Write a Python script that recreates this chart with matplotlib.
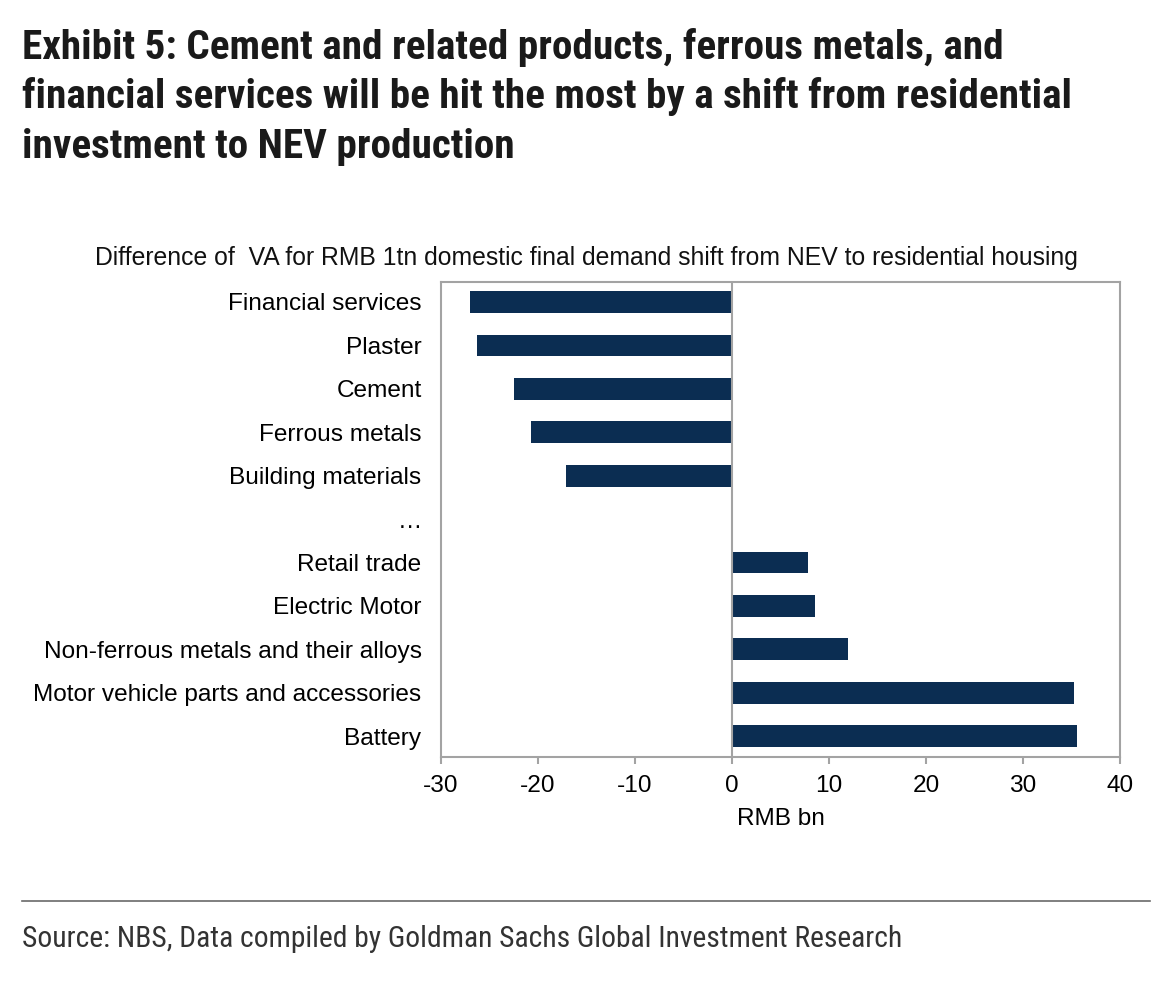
import matplotlib
matplotlib.use("Agg")
import matplotlib.pyplot as plt
import numpy as np

# data (RMB bn)
categories = ["Financial services", "Plaster", "Cement", "Ferrous metals",
              "Building materials", "\u2026", "Retail trade", "Electric Motor",
              "Non-ferrous metals and their alloys",
              "Motor vehicle parts and accessories", "Battery"]
values = [-27.0, -26.3, -22.5, -20.7, -17.1, np.nan, 7.8, 8.6, 12.0, 35.3, 35.6]
xticks = [-30, -20, -10, 0, 10, 20, 30, 40]

title_lines = ["Exhibit 5: Cement and related products, ferrous metals, and",
               "financial services will be hit the most by a shift from residential",
               "investment to NEV production"]
subtitle = "Difference of  VA for RMB 1tn domestic final demand shift from NEV to residential housing"
source = "Source: NBS, Data compiled by Goldman Sachs Global Investment Research"

bar_color = "#0b2d52"
frame_color = "#a3a3a3"
narrow = ["Roboto Condensed", "Archivo Narrow", "Liberation Sans Narrow",
          "Liberation Sans", "DejaVu Sans"]

plt.rcParams["font.family"] = ["Liberation Sans", "DejaVu Sans"]

fig = plt.figure(figsize=(11.66, 9.86), dpi=100)
W, H = 1166, 986

# title, one text per line at the reference baselines
for i, line in enumerate(title_lines):
    fig.text(22 / W, 1 - (59 + 49.5 * i) / H, line, family=narrow, weight="bold",
             fontsize=29.6, color="#1a1a1a", va="baseline", ha="left")

ax = fig.add_axes([441 / W, 1 - 757 / H, 679 / W, 475 / H])
y = np.arange(len(categories))
ax.barh(y, values, height=0.5, color=bar_color, zorder=2)
ax.axvline(0, color=frame_color, lw=1.5, zorder=3)

ax.set_xlim(-30, 40)
ax.set_ylim(10.48, -0.46)
ax.set_xticks(xticks)
ax.set_xticklabels([str(t) for t in xticks])
ax.set_yticks(y)
ax.set_yticklabels(categories)
ax.tick_params(axis="y", length=0, pad=14, labelsize=17.6)
ax.tick_params(axis="x", length=5, width=1.5, color=frame_color, pad=8,
               labelsize=17.6, direction="out")
for s in ax.spines.values():
    s.set_color(frame_color)
    s.set_linewidth(1.5)
ax.set_xlabel("RMB bn", fontsize=17.6, labelpad=8)

fig.text(586 / W, 1 - 258 / H, subtitle, fontsize=17.8, ha="center",
         va="center", color="#111111")

# footer rule and source
fig.add_artist(plt.Line2D([22 / W, 1150 / W], [1 - 900.5 / H, 1 - 900.5 / H],
                          color="#6a6a6a", lw=1.2))
fig.text(22 / W, 1 - 947 / H, source, family=narrow, fontsize=21.3,
         color="#333333", ha="left", va="baseline")

fig.savefig("out.png", dpi=100)
